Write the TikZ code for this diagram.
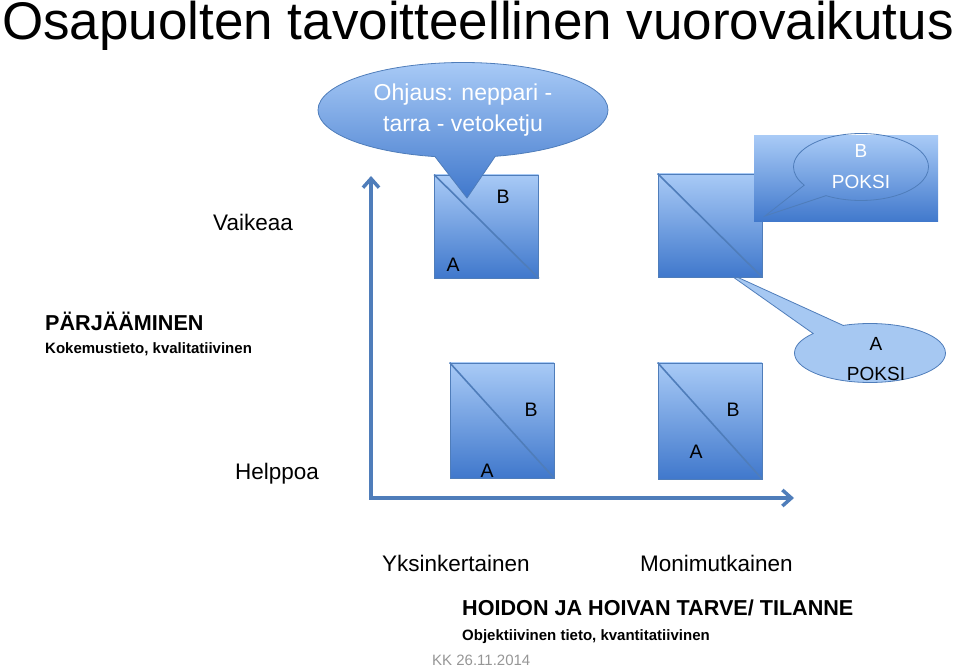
\documentclass[tikz,border=0pt]{standalone}
\usepackage{fontspec}
\setmainfont{Liberation Sans}
\usetikzlibrary{arrows.meta, positioning, shapes.callouts}
\definecolor{kkblue}{RGB}{79, 125, 186}
\definecolor{kklight}{RGB}{168, 202, 246}
\definecolor{kkdark}{RGB}{64, 120, 204}
\definecolor{kkpale}{RGB}{166, 200, 242}
\definecolor{kkgray}{RGB}{150, 150, 150}

\begin{document}
\begin{tikzpicture}[
    x=1pt, y=-1pt,
    abbox/.style={draw=kkblue, line width=0.8pt, top color=kklight, bottom color=kkdark, inner sep=0pt, minimum width=104pt},
    diag/.style={kkblue, line width=1.6pt},
    axis/.style={{Straight Barb[length=9pt, width=16pt]}-{Straight Barb[length=9pt, width=16pt]}, kkblue, line width=3.5pt, line join=miter},
    letter/.style={font=\fontsize{19.5}{21}\selectfont, inner sep=0pt},
    txt/.style={font=\fontsize{22.5}{26}\selectfont, inner sep=0pt, anchor=base west},
    heading/.style={font=\bfseries\fontsize{21.6}{24}\selectfont, inner sep=0pt, anchor=base west},
    subhead/.style={font=\bfseries\fontsize{15}{18}\selectfont, inner sep=0pt, anchor=base west},
    bubble/.style={ellipse callout, draw=kkblue, line width=0.8pt, align=center, inner sep=0pt}
]
\useasboundingbox (0,0) rectangle (959,668);

% Otsikko
\node[anchor=base west, inner sep=0pt, font=\fontsize{53}{60}\selectfont] (title) at (2,40) {Osapuolten tavoitteellinen vuorovaikutus};

% Akselit
\coordinate (origo) at (371,498);
\coordinate (ytop) at (371,176);
\coordinate (xend) at (794,498);
\draw[axis] (ytop) -- (origo) -- (xend);

% Alarivin laatikot
\node[abbox, minimum height=115pt] (sqBL) at (502,420.5) {};
\draw[diag] (sqBL.north west) -- (sqBL.south east);
\node[letter] (bBL) at (531,410) {B};
\node[letter] (aBL) at (487,471) {A};

\node[abbox, minimum height=116pt] (sqBR) at (710,421) {};
\draw[diag] (sqBR.north west) -- (sqBR.south east);
\node[letter] (bBR) at (733,410) {B};
\node[letter] (aBR) at (696,452) {A};

% A POKSI -puhekupla
\coordinate (aptr) at (726,272);
\node[bubble, fill=kkpale, minimum width=151pt, minimum height=59pt, callout pointer arc=28,
      callout absolute pointer={(aptr)}] (bubA) at (870,353) {};
\node[inner sep=0pt, align=center, font=\fontsize{19}{30}\selectfont] (txtA) at (876,359) {A\\POKSI};

% Ylarivin laatikot
\node[abbox, minimum height=103pt] (sqTR) at (710,225.5) {};
\draw[diag] (sqTR.north west) -- (sqTR.south east);

\node[inner sep=0pt, top color=kklight, bottom color=kkdark, minimum width=184pt, minimum height=86pt] (boxB) at (846,179) {};
\coordinate (bptr) at (765,216);
\node[bubble, text=white, minimum width=135pt, minimum height=67pt, font=\fontsize{19}{31}\selectfont, callout pointer arc=26,
      callout absolute pointer={(bptr)}] (bubB) at (861,167) {B\\POKSI};

\node[abbox, minimum height=103pt] (sqTL) at (486.5,226.5) {};
\draw[diag] (sqTL.north west) -- (sqTL.south east);

% Ohjaus-puhekupla
\coordinate (ohjptr) at (467,198);
\node[bubble, top color=kklight, bottom color=kkdark, text=white, minimum width=290pt, minimum height=95pt, callout pointer arc=24,
      font=\fontsize{23}{31}\selectfont, callout absolute pointer={(ohjptr)}] (ohjaus) at (463,110) {Ohjaus: neppari -\\tarra - vetoketju};
\node[letter] (bTL) at (503,197) {B};
\node[letter] (aTL) at (453,265) {A};

% Akselien tekstit
\node[txt] (vaikeaa) at (213,231) {Vaikeaa};
\node[txt] (helppoa) at (235,479) {Helppoa};
\node[heading] (parj) at (45,331) {PÄRJÄÄMINEN};
\node[subhead] (koke) at (45,354) {Kokemustieto, kvalitatiivinen};
\node[txt] (yksi) at (382,571) {Yksinkertainen};
\node[txt] (moni) at (640,571) {Monimutkainen};
\node[heading] (hoidon) at (462,615) {HOIDON JA HOIVAN TARVE/ TILANNE};
\node[subhead] (objekt) at (462,640) {Objektiivinen tieto, kvantitatiivinen};
\node[anchor=base west, inner sep=0pt, kkgray, font=\fontsize{15}{18}\selectfont] (pvm) at (432,665) {KK 26.11.2014};

\end{tikzpicture}
\end{document}
